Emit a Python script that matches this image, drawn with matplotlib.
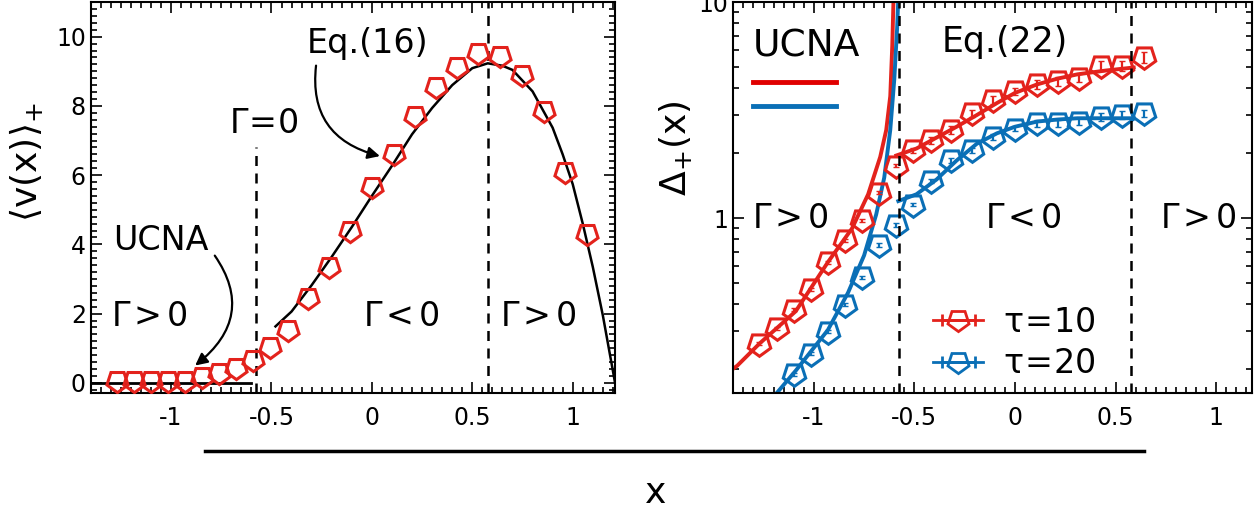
import numpy as np
import matplotlib
matplotlib.use('Agg')
import matplotlib.pyplot as plt
from matplotlib.lines import Line2D
from matplotlib.ticker import MultipleLocator, FixedLocator, NullFormatter, FuncFormatter

plt.rcParams['font.family'] = ['DejaVu Sans']
plt.rcParams['mathtext.fontset'] = 'dejavusans'
plt.rcParams['mathtext.default'] = 'regular'

ROJO = '#e3221c'
AZUL = '#0a6fb6'
PENTA = (5, 0, 180)  # pentagono invertido

# ---- datos panel izquierdo: <v(x)>_+ ----
x_sim = [-1.27, -1.185, -1.10, -1.015, -0.93, -0.845, -0.76, -0.675, -0.59, -0.505,
         -0.42, -0.32, -0.215, -0.11, 0.0, 0.11, 0.215, 0.32, 0.425, 0.53,
         0.64, 0.75, 0.855, 0.96, 1.07]
v_sim = [0.04, 0.04, 0.04, 0.04, 0.04, 0.18, 0.28, 0.42, 0.66, 1.04,
         1.54, 2.45, 3.34, 4.4, 5.65, 6.6, 7.7, 8.54, 9.11, 9.52,
         9.45, 8.88, 7.85, 6.08, 4.3]

x_eq16 = [-0.48, -0.4, -0.3, -0.2, -0.1, 0.0, 0.1, 0.2, 0.3, 0.4, 0.5, 0.577,
          0.65, 0.7, 0.8, 0.9, 0.95, 1.0, 1.05, 1.1, 1.15, 1.2, 1.22]
v_eq16 = [1.63, 2.06, 2.82, 3.64, 4.5, 5.4, 6.27, 7.18, 7.94, 8.6, 9.09, 9.23,
          9.16, 9.04, 8.42, 7.37, 6.6, 5.74, 4.6, 3.35, 1.95, 0.35, -0.3]

x_ucna_izq = [-1.45, -0.6]
v_ucna_izq = [0.0, 0.0]

# ---- datos panel derecho: Delta_+(x) ----
x_t10 = x_sim[:21]
d_t10 = [0.263, 0.31, 0.377, 0.469, 0.626, 0.791, 0.98, 1.31, 1.75, 2.06,
         2.29, 2.56, 3.06, 3.54, 3.87, 4.16, 4.31, 4.47, 5.07, 5.07, 5.55]
e_t10 = [0.005, 0.005, 0.006, 0.007, 0.01, 0.012, 0.015, 0.02, 0.03, 0.05,
         0.08, 0.1, 0.12, 0.15, 0.15, 0.2, 0.2, 0.2, 0.25, 0.25, 0.3]
x_t20 = x_sim[2:21]
d_t20 = [0.19, 0.236, 0.298, 0.398, 0.532, 0.749, 0.93, 1.156, 1.49, 1.85,
         2.06, 2.38, 2.60, 2.75, 2.75, 2.80, 2.95, 3.0, 3.06]
e_t20 = [0.003, 0.004, 0.005, 0.006, 0.01, 0.015, 0.02, 0.02, 0.03, 0.05,
         0.06, 0.08, 0.08, 0.1, 0.1, 0.1, 0.12, 0.12, 0.12]

x_ucna10 = [-1.42, -1.38, -1.27, -1.09, -0.93, -0.81, -0.73, -0.67, -0.64, -0.62, -0.61, -0.603]
d_ucna10 = [0.195, 0.208, 0.263, 0.371, 0.626, 0.897, 1.29, 1.92, 2.56, 3.67, 6.3, 11.0]
x_ucna20 = [-1.21, -1.19, -1.09, -0.93, -0.83, -0.75, -0.69, -0.65, -0.62, -0.60, -0.586, -0.579]
d_ucna20 = [0.14, 0.153, 0.197, 0.304, 0.452, 0.673, 1.04, 1.54, 2.56, 4.39, 7.55, 11.0]

x_eq22_10 = [-0.59, -0.49, -0.39, -0.29, -0.19, -0.09, 0.0, 0.11, 0.21, 0.31, 0.45, 0.59]
d_eq22_10 = [1.95, 2.1, 2.36, 2.65, 3.0, 3.41, 3.8, 4.16, 4.42, 4.63, 4.82, 4.98]
x_eq22_20 = [-0.58, -0.49, -0.39, -0.29, -0.19, -0.09, 0.0, 0.11, 0.21, 0.31, 0.45, 0.59]
d_eq22_20 = [1.2, 1.29, 1.51, 1.85, 2.21, 2.47, 2.65, 2.8, 2.86, 2.9, 2.9, 2.9]

x_gamma0 = [-0.577, 0.577]

fig = plt.figure(figsize=(12.6, 5.12), dpi=100)
ax1 = fig.add_axes([0.072, 0.232, 0.416, 0.764])
ax2 = fig.add_axes([0.582, 0.232, 0.412, 0.764])

def estilo_ejes(ax):
    ax.tick_params(which='both', direction='in', top=True, right=True, labelsize=17, width=1.2)
    ax.tick_params(which='major', length=8)
    ax.tick_params(which='minor', length=4)
    for s in ax.spines.values():
        s.set_linewidth(1.5)
    ax.xaxis.set_major_locator(FixedLocator([-1, -0.5, 0, 0.5, 1]))
    ax.xaxis.set_minor_locator(MultipleLocator(0.05))
    ax.xaxis.set_major_formatter(FuncFormatter(lambda v, p: '%g' % v))
    ax.tick_params(axis='x', pad=9)

MAYOR = r'$\Gamma\!\hspace{0.1}>\!\hspace{0.1}0$'
MENOR = r'$\Gamma\!\hspace{0.1}<\!\hspace{0.1}0$'

# ---- panel izquierdo ----
ax1.plot(x_sim, v_sim, linestyle='none', marker=PENTA, markersize=16, mfc='none',
         mec=ROJO, mew=2.2, zorder=3)
ax1.plot(x_eq16, v_eq16, color='black', lw=1.8, zorder=2)
ax1.plot(x_ucna_izq, v_ucna_izq, color='black', lw=2, zorder=2)
ax1.plot([x_gamma0[0]] * 2, [-0.3, 6.8], color='black', lw=1.8, ls=(0, (4, 3)))
ax1.axvline(x_gamma0[1], color='black', lw=1.8, ls=(0, (4, 3)))
ax1.set_xlim(-1.4, 1.21)
ax1.set_ylim(-0.3, 11)
ax1.yaxis.set_major_locator(MultipleLocator(2))
ax1.yaxis.set_minor_locator(MultipleLocator(0.2))
estilo_ejes(ax1)
ax1.set_ylabel(r'$\langle v(x)\rangle_{+}$', fontsize=26)
ax1.yaxis.set_label_coords(-0.088, 0.59)

ax1.annotate('Eq.(16)', xy=(0.04, 6.55), xytext=(-0.02, 9.8), fontsize=24,
             ha='center', va='center',
             arrowprops=dict(arrowstyle='-|>', color='black', lw=1.6,
                             connectionstyle='arc3,rad=0.45', shrinkA=2, shrinkB=0,
                             mutation_scale=18, relpos=(0.08, 0.0)))
ax1.annotate('UCNA', xy=(-0.88, 0.5), xytext=(-1.05, 4.1), fontsize=24,
             ha='center', va='center',
             arrowprops=dict(arrowstyle='-|>', color='black', lw=1.6,
                             connectionstyle='arc3,rad=-0.5', shrinkA=4, shrinkB=0,
                             mutation_scale=18, relpos=(1.0, 0.3)))
ax1.text(-0.54, 7.5, r'$\Gamma\!=\!0$', fontsize=24, ha='center', va='center')
ax1.text(-1.11, 1.93, MAYOR, fontsize=24, ha='center', va='center')
ax1.text(0.145, 1.93, MENOR, fontsize=24, ha='center', va='center')
ax1.text(0.83, 1.93, MAYOR, fontsize=24, ha='center', va='center')

# ---- panel derecho ----
ax2.set_yscale('log')
ax2.plot(x_ucna10, d_ucna10, color=ROJO, lw=2.8)
ax2.plot(x_ucna20, d_ucna20, color=AZUL, lw=2.8)
ax2.plot(x_eq22_10, d_eq22_10, color=ROJO, lw=2.8)
ax2.plot(x_eq22_20, d_eq22_20, color=AZUL, lw=2.8)
ax2.errorbar(x_t10, d_t10, yerr=e_t10, fmt='none', ecolor=ROJO, elinewidth=1.6, capsize=2.5)
ax2.errorbar(x_t20, d_t20, yerr=e_t20, fmt='none', ecolor=AZUL, elinewidth=1.6, capsize=2.5)
ax2.plot(x_t10, d_t10, linestyle='none', marker=PENTA, markersize=17, mfc='none', mec=ROJO, mew=2.2)
ax2.plot(x_t20, d_t20, linestyle='none', marker=PENTA, markersize=17, mfc='none', mec=AZUL, mew=2.2)
for xv in x_gamma0:
    ax2.axvline(xv, color='black', lw=1.8, ls=(0, (4, 3)))
ax2.set_xlim(-1.4, 1.18)
ax2.set_ylim(0.155, 10)
estilo_ejes(ax2)
ax2.yaxis.set_major_locator(FixedLocator([1, 10]))
ax2.yaxis.set_major_formatter(FuncFormatter(lambda v, p: '%g' % v))
ax2.yaxis.set_minor_locator(FixedLocator([0.2, 0.3, 0.4, 0.5, 0.6, 0.7, 0.8, 0.9,
                                          2, 3, 4, 5, 6, 7, 8, 9]))
ax2.yaxis.set_minor_formatter(NullFormatter())
ax2.set_ylabel(r'$\Delta_{+}(x)$', fontsize=26)
ax2.yaxis.set_label_coords(-0.075, 0.627)

ax2.text(-0.05, 6.5, 'Eq.(22)', fontsize=25, ha='center', va='center')
ax2.text(-1.12, 1.0, MAYOR, fontsize=24, ha='center', va='center')
ax2.text(0.04, 1.0, MENOR, fontsize=24, ha='center', va='center')
ax2.text(0.91, 1.0, MAYOR, fontsize=24, ha='center', va='center')

# clave UCNA: texto y dos trazos
ax2.text(0.037, 0.887, 'UCNA', transform=ax2.transAxes, fontsize=27, ha='left', va='center')
ax2.add_line(Line2D([0.037, 0.197], [0.795, 0.795], transform=ax2.transAxes,
                    color='#e00000', lw=3.5))
ax2.add_line(Line2D([0.037, 0.197], [0.734, 0.734], transform=ax2.transAxes,
                    color=AZUL, lw=3.5))

# leyenda tau
h10 = ax2.errorbar([np.nan], [np.nan], xerr=[1], fmt='-', color=ROJO, marker=PENTA,
                   markersize=16, mfc='none', mec=ROJO, mew=2, capsize=4, lw=2, elinewidth=2)
h20 = ax2.errorbar([np.nan], [np.nan], xerr=[1], fmt='-', color=AZUL, marker=PENTA,
                   markersize=16, mfc='none', mec=AZUL, mew=2, capsize=4, lw=2, elinewidth=2)
ax2.legend([h10, h20], [r'$\tau\!=\!10$', r'$\tau\!=\!20$'], loc='center left',
           bbox_to_anchor=(0.385, 0.128), frameon=False, fontsize=24, borderpad=0,
           borderaxespad=0, handlelength=1.5, handletextpad=0.6, labelspacing=0.25)

# eje x comun
fig.add_artist(Line2D([0.163, 0.908], [0.119, 0.119], color='black', lw=2.5))
fig.text(0.52, 0.037, r'$x$', fontsize=26, ha='center', va='center')

fig.savefig('out.png', dpi=100)
